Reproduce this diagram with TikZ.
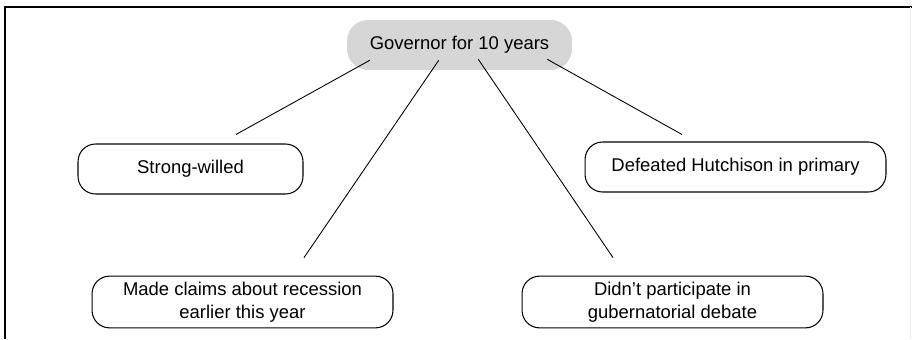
\documentclass[tikz,border=0pt]{standalone}
\usepackage{fontspec}
\setmainfont{Liberation Sans}
\usetikzlibrary{calc,positioning}

\begin{document}
\begin{tikzpicture}[x=0.02cm,y=0.02cm,
		font=\fontsize{10.5}{13}\selectfont,
		topic/.style={fill=gray!32,rounded corners=12,minimum width=4.5cm,minimum height=1cm,align=center},
		fact/.style={draw,line width=0.6pt,rounded corners=10,minimum height=1cm,align=center},
		link/.style={line width=0.5pt}]
		\useasboundingbox (0,0) rectangle (912,339);
		% Frame
		\draw[line width=0.9pt] (5,0) -- (5,332) -- (912,332);
		\draw[gray!15] (910,0) -- (910,332);
		% Nodes
		\node[topic] (gov) at (459.5,294) {Governor for 10 years};
		\node[fact,minimum width=4.5cm] (strong) at (190.5,170) {Strong-willed};
		\node[fact,minimum width=6.02cm] (defeated) at (735.5,172) {Defeated Hutchison in primary};
		\node[fact,minimum width=6.02cm] (claims) at (242.5,37) {Made claims about recession\\earlier this year};
		\node[fact,minimum width=6.02cm] (debate) at (672.5,37) {Didn’t participate in\\gubernatorial debate};
		% Links
		\draw[link] ([shift={(23,10)}]gov.south west) -- ([shift={(45.5,9)}]strong.north);
		\draw[link] ([shift={(92,10)}]gov.south west) -- ([shift={(61.5,18)}]claims.north);
		\draw[link] ([shift={(-94,11)}]gov.south east) -- ([shift={(-59.5,18)}]debate.north);
		\draw[link] ([shift={(-25,11)}]gov.south east) -- ([shift={(-53.5,7)}]defeated.north);
	\end{tikzpicture}
\end{document}
